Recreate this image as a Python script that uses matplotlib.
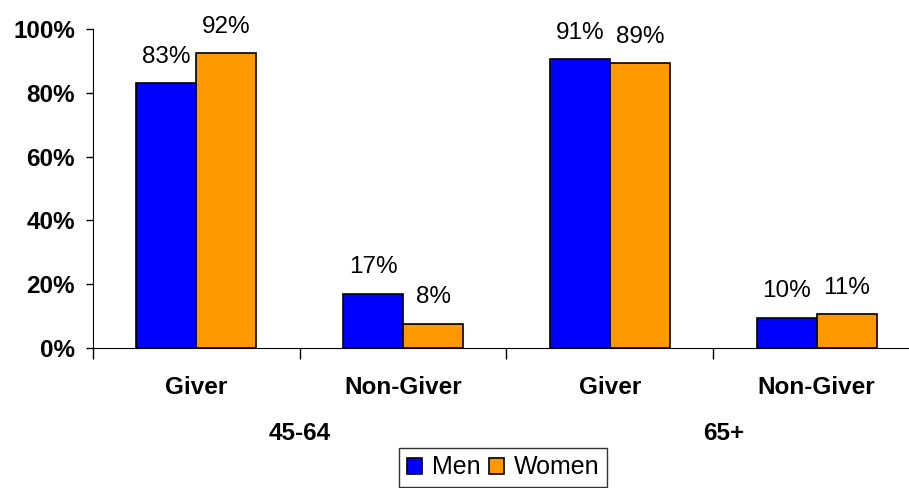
import numpy as np
import matplotlib.pyplot as plt

plt.rcParams['font.family'] = ['Liberation Sans', 'DejaVu Sans']

categories = ['Giver', 'Non-Giver', 'Giver', 'Non-Giver']
groups = ['45-64', '65+']
men = [83.1, 17.0, 90.6, 9.5]
women = [92.4, 7.6, 89.2, 10.6]
yticks = [0, 20, 40, 60, 80, 100]

W, H = 909, 488
fig = plt.figure(figsize=(W / 100, H / 100), dpi=100)
ax = fig.add_axes([93 / W, (H - 348) / H, (908 - 93) / W, (348 - 29) / H])

x = np.arange(len(categories))
bw = 0.29
b1 = ax.bar(x - bw / 2, men, bw, color='#0000FF', edgecolor='black', linewidth=1.2, label='Men')
b2 = ax.bar(x + bw / 2, women, bw, color='#FF9900', edgecolor='black', linewidth=1.2, label='Women')

for bars, vals in ((b1, men), (b2, women)):
    for r, v in zip(bars, vals):
        ax.annotate('%d%%' % round(v), (r.get_x() + r.get_width() / 2, v),
                    xytext=(0, 11), textcoords='offset points',
                    ha='center', va='bottom', fontsize=17.5)

ax.set_xlim(-0.5, 3.5 - 12 / 207)
ax.set_ylim(0, 100)
ax.set_yticks(yticks)
ax.set_yticklabels(['%d%%' % t for t in yticks], fontsize=17.5, fontweight='bold')
ax.tick_params(axis='y', direction='out', length=5, width=1, pad=8)
ax.set_xticks(np.arange(-0.5, 3.5, 1.0))
ax.set_xticklabels([])
ax.tick_params(axis='x', direction='out', length=8, width=1)
for s in ('top', 'right'):
    ax.spines[s].set_visible(False)

trans = ax.get_xaxis_transform()
for i, c in enumerate(categories):
    ax.text(i, -40 / 319, c, transform=trans, ha='center', va='center',
            fontsize=17.5, fontweight='bold')
for i, g in enumerate(groups):
    ax.text(2 * i + 0.5 + i * 0.05, -85 / 319, g, transform=trans, ha='center', va='center',
            fontsize=17.5, fontweight='bold')

leg = fig.legend(loc='upper left', bbox_to_anchor=(399 / W, 1 - 448 / H),
                 ncol=2, fontsize=18, frameon=True, fancybox=False,
                 handlelength=0.6, handleheight=0.6, handletextpad=0.4,
                 columnspacing=0.35, borderpad=0.3, borderaxespad=0)
leg.get_frame().set_edgecolor('black')
leg.get_frame().set_linewidth(1)

fig.savefig('out.png', dpi=100)
